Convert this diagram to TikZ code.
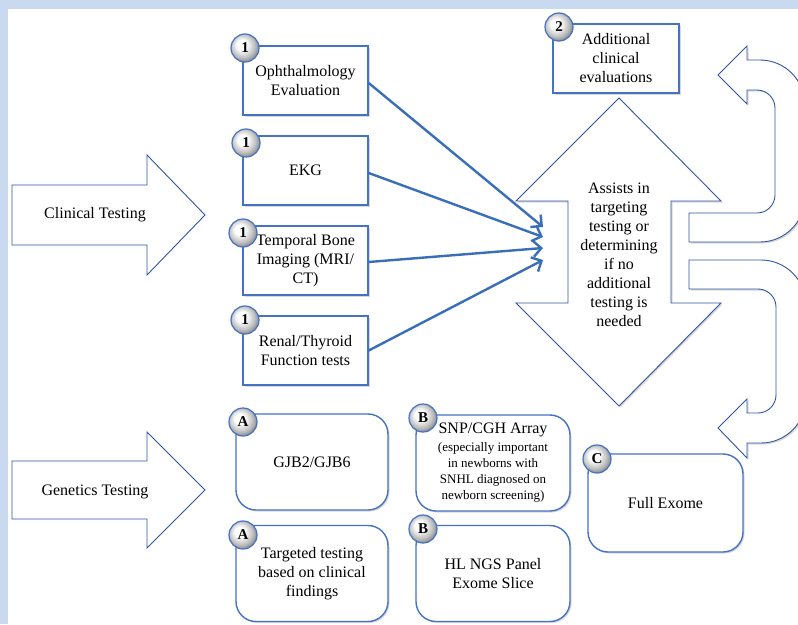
\documentclass[tikz,border=0pt]{standalone}
\usepackage{fontspec}
\setmainfont{Liberation Serif}
\usetikzlibrary{arrows.meta,shadows}
\definecolor{bandblue}{RGB}{201,218,240}
\definecolor{boxblue}{RGB}{68,114,196}
\definecolor{arrblue}{RGB}{58,110,184}
\definecolor{shapeblue}{RGB}{47,85,164}
\newcommand{\smallf}{\fontsize{13}{16}\selectfont}
\pgfdeclareradialshading{badgeball}{\pgfpoint{-7bp}{7bp}}{color(0bp)=(white); color(9bp)=(white); color(21bp)=(black!25); color(28bp)=(black!45); color(50bp)=(black!45)}
\begin{document}
\begin{tikzpicture}[x=1pt,y=-1pt,
  every node/.style={font=\fontsize{16}{19}\selectfont, align=center, inner sep=0pt},
  softshadow/.style={drop shadow={shadow xshift=1.5pt,shadow yshift=-1.5pt,opacity=0.3}},
  sqbox/.style={draw=boxblue, line width=1.4pt, fill=white, minimum width=125pt, minimum height=69pt, softshadow},
  rbox/.style={draw=boxblue, line width=1.4pt, fill=white, rounded corners=20pt, minimum width=152pt, minimum height=96pt, softshadow},
  badge/.style={circle, draw=boxblue, line width=1.2pt, shading=badgeball, minimum size=28pt, font=\fontsize{15}{15}\selectfont\bfseries},
  bigarrow/.style={draw=shapeblue, line width=0.9pt, fill=white},
  conn/.style={draw=arrblue, line width=2.4pt, -{Straight Barb[length=8pt,width=16pt]}},
]
\useasboundingbox (0,0) rectangle (798,624);
\fill[bandblue] (0,0) rectangle (798,624);
\fill[white] (8,9) rectangle (798,624);

% big input arrows
\draw[bigarrow] (12,185) -- (147,185) -- (147,155) -- (205,215) -- (147,275) -- (147,245) -- (12,245) -- cycle;
\node (clin) at (95,215) {Clinical Testing};
\draw[bigarrow] (12,461) -- (147,461) -- (147,432) -- (205,490) -- (147,548) -- (147,519) -- (12,519) -- cycle;
\node (gen) at (95,492) {Genetics Testing};

% double arrow
\draw[bigarrow, softshadow] (619,98) -- (721,201) -- (671,201) -- (671,303) -- (721,303) -- (619,406) -- (516,303) -- (568,303) -- (568,201) -- (516,201) -- cycle;
\node (assist) at (619,254.5) {Assists in\\targeting\\testing or\\determining\\if no\\additional\\testing is\\needed};

% U-turn arrows
\begin{scope}
\clip (0,0) rectangle (798,624);
\draw[bigarrow, softshadow] (689,213) -- (757,213) .. controls (766.9,213) and (775,204.9) .. (775,195)
  -- (775,108) .. controls (775,98.1) and (766.9,90) .. (757,90)
  -- (747,90) -- (747,104) -- (718,75) -- (747,46) -- (747,60)
  -- (760,60) .. controls (784.8,60) and (805,80.2) .. (805,105)
  -- (805,197) .. controls (805,221.8) and (784.8,242) .. (760,242)
  -- (689,242) -- cycle;
\draw[bigarrow, softshadow] (689,260) -- (761,260) .. controls (785.8,260) and (806,280.2) .. (806,305)
  -- (806,398) .. controls (806,422.8) and (785.8,443) .. (761,443)
  -- (747,443) -- (747,458) -- (718,428) -- (747,399) -- (747,413)
  -- (758,413) .. controls (767.9,413) and (776,404.9) .. (776,395)
  -- (776,307) .. controls (776,297.1) and (767.9,289) .. (758,289)
  -- (689,289) -- cycle;
\end{scope}

% clinical boxes
\node[sqbox] (oph) at (305.5,80.5) {Ophthalmology\\Evaluation};
\node[sqbox] (ekg) at (305.5,170.5) {EKG};
\node[sqbox] (tb) at (305.5,260.5) {Temporal Bone\\Imaging (MRI/\\CT)};
\node[sqbox] (ren) at (305.5,350.5) {Renal/Thyroid\\Function tests};
\node[sqbox, minimum width=126pt] (add) at (616,58.5) {Additional\\clinical\\evaluations};

% genetic boxes
\node[rbox] (gjb) at (312,462) {GJB2/GJB6};
\node[rbox] (targ) at (312,573.5) {Targeted testing\\based on clinical\\findings};
\node[rbox, minimum width=154pt, font=\smallf] (snp) at (493,463) {{\fontsize{16}{19}\selectfont SNP/CGH Array}\\[2pt](especially important\\in newborns with\\SNHL diagnosed on\\newborn screening)};
\node[rbox, minimum width=154pt] (hl) at (493,573.5) {HL NGS Panel\\Exome Slice};
\node[rbox, minimum width=155pt, minimum height=98pt] (exome) at (665.5,503) {Full Exome};

% badges
\node[badge] (b1) at (245,48) {1};
\node[badge] (b2) at (246,143) {1};
\node[badge] (b3) at (243,233) {1};
\node[badge] (b4) at (245,320) {1};
\node[badge] (b5) at (559,27) {2};
\node[badge] (b6) at (243,422) {A};
\node[badge] (b7) at (243,535) {A};
\node[badge] (b8) at (423,418) {B};
\node[badge] (b9) at (423,529) {B};
\node[badge] (b10) at (597,459) {C};

% connectors
\coordinate (t1) at (543,227);
\coordinate (t2) at (543,237);
\coordinate (t3) at (543,248);
\coordinate (t4) at (543,260);
\draw[conn] ([yshift=-2.5pt]oph.east) -- (t1);
\draw[conn] ([yshift=-2.5pt]ekg.east) -- (t2);
\draw[conn] ([yshift=-1.5pt]tb.east) -- (t3);
\draw[conn] (ren.east) -- (t4);
\end{tikzpicture}
\end{document}
